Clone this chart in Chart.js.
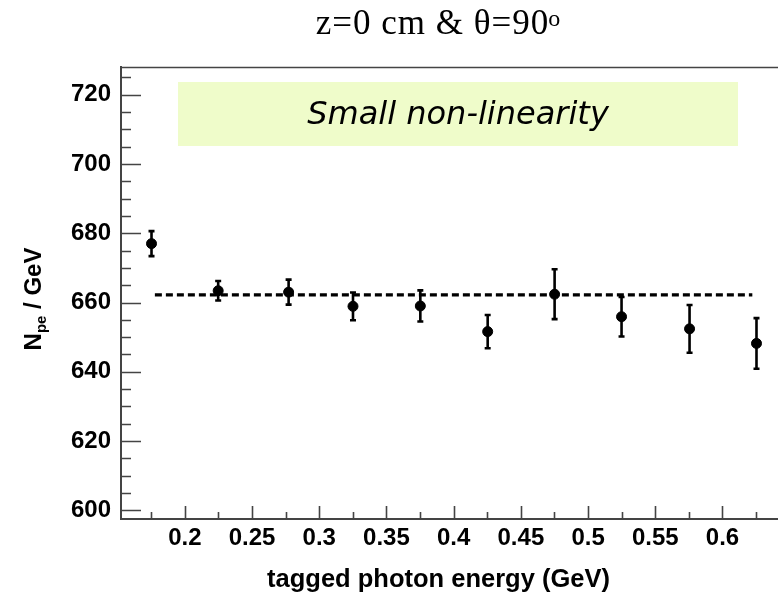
<!DOCTYPE html>
<html>
<head>
<meta charset="utf-8">
<script src="https://cdn.jsdelivr.net/npm/chart.js@4"></script>
<style>
  html, body { margin: 0; padding: 0; background: #fff; }
  canvas { display: block; }
</style>
</head>
<body>
<canvas id="npeChart" width="778" height="597"></canvas>
<script>
// Measured points (tagged photon energy in GeV, Npe per GeV, error)
const energy = [0.1752, 0.2248, 0.2772, 0.3251, 0.3752, 0.4253, 0.4751, 0.5249, 0.5755, 0.6253];
const npe = [677.0, 663.4, 663.0, 658.9, 659.0, 651.6, 662.4, 655.9, 652.4, 648.2];
const npeErr = [3.6, 2.8, 3.6, 4.0, 4.5, 4.8, 7.2, 5.7, 6.9, 7.3];

// Fitted constant (dashed line)
const meanX = [0.1777, 0.6222];
const meanY = [662.2, 662.2];

// Axis ticks
const xTicks = [0.2, 0.25, 0.3, 0.35, 0.4, 0.45, 0.5, 0.55, 0.6];
const xTickLabels = ["0.2", "0.25", "0.3", "0.35", "0.4", "0.45", "0.5", "0.55", "0.6"];
const yTicks = [600, 620, 640, 660, 680, 700, 720];
const yTickLabels = ["600", "620", "640", "660", "680", "700", "720"];

const axisColor = "#444";

// error bars drawn behind the markers
const errorBars = {
    id: "errorBars",
    beforeDatasetsDraw(chart) {
        const { ctx, scales: { x, y } } = chart;
        ctx.save();
        ctx.strokeStyle = "#000";
        ctx.lineWidth = 2.6;
        energy.forEach((e, i) => {
            const px = x.getPixelForValue(e);
            const top = y.getPixelForValue(npe[i] + npeErr[i]);
            const bot = y.getPixelForValue(npe[i] - npeErr[i]);
            ctx.beginPath();
            ctx.moveTo(px, top);
            ctx.lineTo(px, bot);
            ctx.moveTo(px - 3, top);
            ctx.lineTo(px + 3, top);
            ctx.moveTo(px - 3, bot);
            ctx.lineTo(px + 3, bot);
            ctx.stroke();
        });
        ctx.restore();
    }
};

// green note box, inward ticks, frame and titles
const decorations = {
    id: "decorations",
    beforeDatasetsDraw(chart) {
        const { ctx } = chart;
        ctx.save();
        ctx.fillStyle = "#effcca";
        ctx.fillRect(178, 82, 560, 64);
        ctx.fillStyle = "#000";
        ctx.font = "italic 32px 'DejaVu Sans'";
        ctx.textAlign = "center";
        ctx.textBaseline = "alphabetic";
        ctx.fillText("Small non-linearity", 458, 123.5);
        ctx.restore();
    },
    afterDraw(chart) {
        const { ctx, chartArea: area, scales: { x, y } } = chart;
        ctx.save();
        ctx.strokeStyle = axisColor;
        ctx.lineWidth = 1.6;
        ctx.beginPath();
        // top frame line
        ctx.moveTo(area.left, area.top + 0.5);
        ctx.lineTo(area.right, area.top + 0.5);
        // x ticks, pointing up into the plot
        for (let v = 0.15; v <= 0.651; v += 0.025) {
            const px = Math.round(x.getPixelForValue(v)) + 0.5;
            if (px < area.left + 2 || px > area.right) continue;
            const major = Math.abs(v / 0.05 - Math.round(v / 0.05)) < 1e-6;
            ctx.moveTo(px, area.bottom);
            ctx.lineTo(px, area.bottom - (major ? 13 : 7));
        }
        // y ticks, pointing right into the plot
        for (let v = 600; v <= 725; v += 5) {
            const py = Math.round(y.getPixelForValue(v)) + 0.5;
            const major = v % 20 === 0;
            ctx.moveTo(area.left, py);
            ctx.lineTo(area.left + (major ? 20 : 10), py);
        }
        ctx.stroke();

        ctx.fillStyle = "#000";
        // main title with superscript degree
        ctx.letterSpacing = "1px";
        ctx.font = "35px 'Liberation Serif'";
        const main = "z=0 cm & \u03b8=90";
        const mw = ctx.measureText(main).width;
        ctx.font = "24px 'Liberation Serif'";
        const sw = ctx.measureText("o").width;
        const startX = 439 - (mw + sw) / 2;
        ctx.textAlign = "left";
        ctx.textBaseline = "alphabetic";
        ctx.font = "35px 'Liberation Serif'";
        ctx.fillText(main, startX, 33.5);
        ctx.font = "24px 'Liberation Serif'";
        ctx.fillText("o", startX + mw - 1, 25.5);
        ctx.letterSpacing = "0px";

        // x axis title
        ctx.font = "bold 25.5px 'Liberation Sans'";
        ctx.textAlign = "center";
        ctx.fillText("tagged photon energy (GeV)", 438.5, 587);

        // y axis title with subscript
        ctx.translate(40.5, 299);
        ctx.rotate(-Math.PI / 2);
        ctx.textAlign = "left";
        ctx.font = "bold 24px 'Liberation Sans'";
        const wN = ctx.measureText("N").width;
        const wRest = ctx.measureText(" / GeV").width;
        ctx.font = "bold 15px 'Liberation Sans'";
        const wSub = ctx.measureText("pe").width;
        let tx = -(wN + wSub + wRest) / 2;
        ctx.font = "bold 24px 'Liberation Sans'";
        ctx.fillText("N", tx, 0);
        tx += wN;
        ctx.font = "bold 15px 'Liberation Sans'";
        ctx.fillText("pe", tx, 5);
        tx += wSub;
        ctx.font = "bold 24px 'Liberation Sans'";
        ctx.fillText(" / GeV", tx, 0);
        ctx.restore();
    }
};

const ctx = document.getElementById("npeChart").getContext("2d");

new Chart(ctx, {
    type: "scatter",
    data: {
        datasets: [
            {
                label: "fit",
                type: "line",
                data: meanX.map((v, i) => ({ x: v, y: meanY[i] })),
                borderColor: "#000",
                borderWidth: 3.2,
                borderDash: [7, 4],
                pointRadius: 0,
                fill: false
            },
            {
                label: "Npe / GeV",
                data: energy.map((v, i) => ({ x: v, y: npe[i] })),
                backgroundColor: "#000",
                borderColor: "#000",
                pointRadius: 5,
                pointHoverRadius: 5
            }
        ]
    },
    options: {
        responsive: false,
        animation: false,
        layout: { autoPadding: false, padding: { top: 67, left: 0, right: 0, bottom: 0 } },
        plugins: {
            legend: { display: false },
            tooltip: { enabled: false }
        },
        scales: {
            x: {
                type: "linear",
                min: 0.1525,
                max: 0.6413,
                afterFit(scale) {
                    scale.height = 78;
                    scale.paddingLeft = 0;
                    scale.paddingRight = 0;
                },
                afterBuildTicks(scale) { scale.ticks = xTicks.map(v => ({ value: v })); },
                grid: { display: false, drawTicks: false },
                border: { display: true, color: axisColor, width: 2 },
                ticks: {
                    padding: 5,
                    color: "#000",
                    font: { family: "'Liberation Sans'", size: 24, weight: "bold" },
                    maxRotation: 0,
                    autoSkip: false,
                    callback: (v) => xTickLabels[xTicks.findIndex(t => Math.abs(t - v) < 1e-6)]
                }
            },
            y: {
                min: 597.5,
                max: 728,
                afterFit(scale) { scale.width = 121; },
                afterBuildTicks(scale) { scale.ticks = yTicks.map(v => ({ value: v })); },
                grid: { display: false, drawTicks: false },
                border: { display: true, color: axisColor, width: 2 },
                ticks: {
                    padding: 10,
                    color: "#000",
                    font: { family: "'Liberation Sans'", size: 24, weight: "bold" },
                    autoSkip: false,
                    callback: (v) => yTickLabels[yTicks.indexOf(v)]
                }
            }
        }
    },
    plugins: [errorBars, decorations]
});
</script>
</body>
</html>
